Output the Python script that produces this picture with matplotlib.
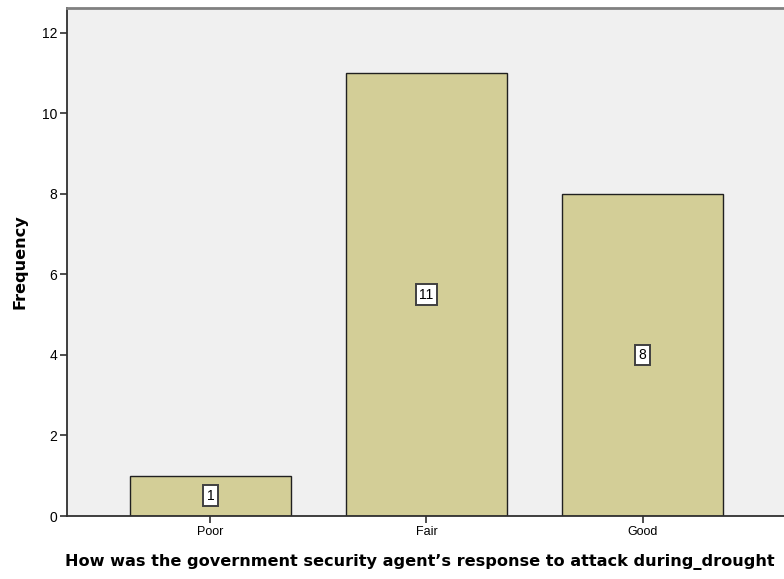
import matplotlib
matplotlib.use("Agg")
import matplotlib.pyplot as plt

categories = ["Poor", "Fair", "Good"]
frequency = [1, 11, 8]
y_ticks = [0, 2, 4, 6, 8, 10, 12]

fig = plt.figure(figsize=(7.84, 5.79), dpi=100)
ax = fig.add_axes([67 / 784, 63 / 579, 1 - 67 / 784, (516 - 8) / 579])
ax.set_facecolor("#f0f0f0")

x = list(range(len(categories)))
ax.bar(x, frequency, width=0.745, color="#d3ce97", edgecolor="#202020",
       linewidth=1.0, zorder=2)

# value labels in white boxes at half bar height
for xi, v in zip(x, frequency):
    ax.text(xi, v / 2, str(v), ha="center", va="center", fontsize=10,
            family="Liberation Sans", zorder=3,
            bbox=dict(boxstyle="square,pad=0.25", facecolor="white",
                      edgecolor="#404040", linewidth=1.4))

ax.set_xlim(-0.664, 2.655)
ax.set_ylim(0, 12.62)
ax.set_xticks(x)
ax.set_xticklabels(categories, fontsize=9, family="Liberation Sans")
ax.set_yticks(y_ticks)
ax.set_yticklabels([str(t) for t in y_ticks], fontsize=10,
                   family="Liberation Sans")
ax.tick_params(axis="both", direction="out", length=5, width=1.2,
               color="#303030", pad=2)

for side in ["left", "bottom"]:
    ax.spines[side].set_color("#303030")
    ax.spines[side].set_linewidth(1.3)
ax.spines["top"].set_color("#808080")
ax.spines["top"].set_linewidth(2)
ax.spines["right"].set_visible(False)

ax.set_ylabel("Frequency", fontsize=11.6, fontweight="bold", labelpad=10.5)
ax.set_xlabel("How was the government security agent\u2019s response to attack during_drought",
              fontsize=11.6, fontweight="bold", labelpad=12, x=0.492)

fig.savefig("out.png", dpi=100)
